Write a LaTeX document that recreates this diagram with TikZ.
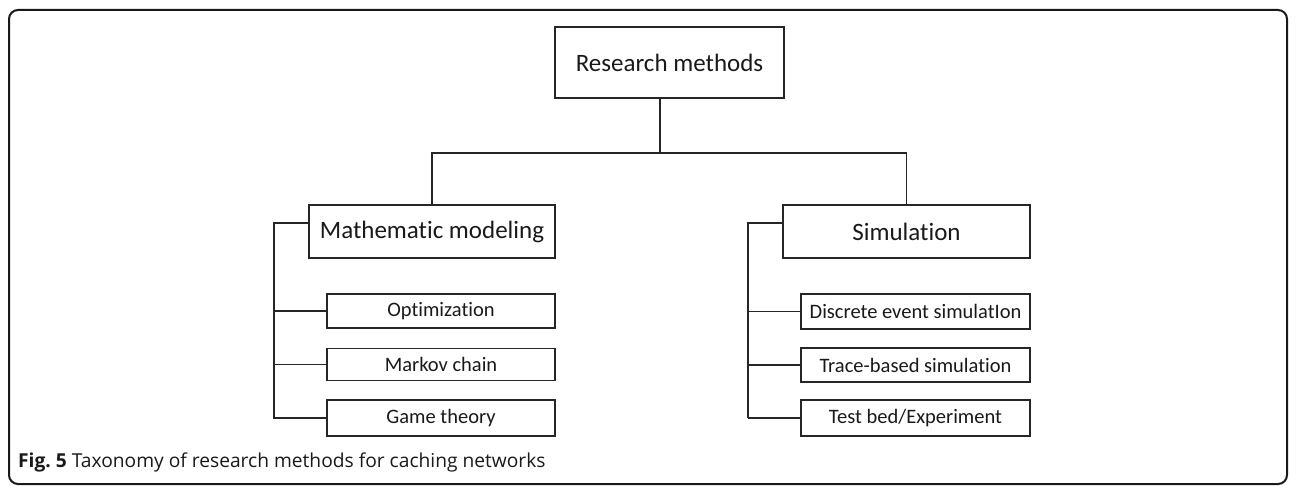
\documentclass[tikz,border=0pt]{standalone}
\usepackage{fontspec}
\setmainfont[Ligatures=NoCommon]{Carlito}
\newfontfamily\capfont{Open Sans}
\begin{document}
\begin{tikzpicture}[x=1pt,y=-1pt,
  box/.style={draw=black!85,line width=1.5pt,inner sep=0pt,text=black!90},
  big/.style={box,font=\fontsize{25}{28}\selectfont},
  small/.style={box,font=\fontsize{20.5}{24}\selectfont},
  conn/.style={draw=black!85,line width=1.5pt}]
\useasboundingbox (0,0) rectangle (1296,486);
\draw[line width=2pt,rounded corners=9pt,black!90] (9,10) rectangle (1287,484);
\node[big,minimum width=229pt,minimum height=71pt] (RM) at (669.5,62.5) {Research methods};
\node[big,minimum width=246pt,minimum height=53pt] (MM) at (432,231.5) {Mathematic modeling};
\node[big,minimum width=247pt,minimum height=53pt] (SIM) at (906.5,231.5) {Simulation};
\node[small,minimum width=228pt,minimum height=34pt] (OPT) at (441,311) {Optimization};
\node[small,minimum width=228pt,minimum height=32pt] (MC) at (441,364.5) {Markov chain};
\node[small,minimum width=228pt,minimum height=36pt] (GT) at (441,418) {Game theory};
\node[small,minimum width=229pt,minimum height=35pt] (DES) at (915.5,311.5) {Discrete event simulatIon};
\node[small,minimum width=229pt,minimum height=34pt] (TBS) at (915.5,365) {Trace-based simulation};
\node[small,minimum width=229pt,minimum height=36pt] (TE) at (915.5,418) {Test bed/Experiment};
\coordinate (bus) at (660,153);
\coordinate (mb) at (274,223);
\coordinate (sb) at (748,223);
\draw[conn] (RM.south -| bus) -- (bus);
\draw[conn] (MM.north) |- (bus) -| (SIM.north);
\draw[conn] (MM.west |- mb) -- (mb) -- (mb |- GT.west) -- ++(0,1);
\draw[conn] (mb |- OPT.west) -- (OPT.west);
\draw[conn] (mb |- MC.west) -- (MC.west);
\draw[conn] (mb |- GT.west) -- (GT.west);
\draw[conn] (SIM.west |- sb) -- (sb) -- (sb |- TE.west);
\draw[conn] (sb |- DES.west) -- (DES.west);
\draw[conn] (sb |- TBS.west) -- (TBS.west);
\draw[conn] (sb |- TE.west) -- (TE.west);
\node[anchor=base west,inner sep=0pt,font=\capfont\fontsize{19.2}{22}\selectfont,text=black!90] (cap) at (18,467) {\textbf{Fig.\ 5} Taxonomy of research methods for caching networks};
\end{tikzpicture}
\end{document}
